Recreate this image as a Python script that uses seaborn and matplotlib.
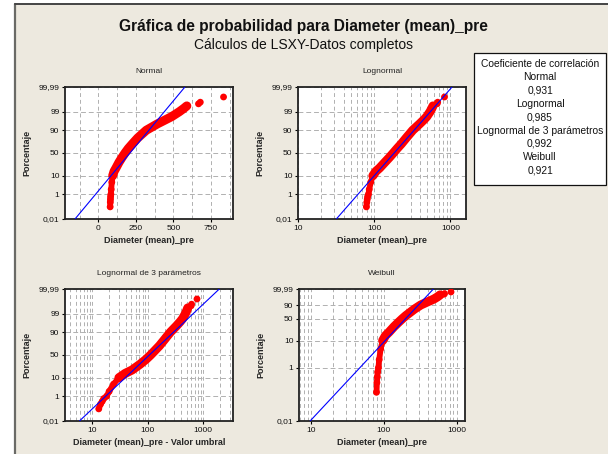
import math
from statistics import NormalDist

import numpy as np
import pandas as pd
import matplotlib
matplotlib.use("Agg")
import matplotlib.pyplot as plt
import seaborn as sns
from matplotlib.patches import Rectangle
from matplotlib.lines import Line2D
from matplotlib.ticker import MultipleLocator, LogLocator, NullFormatter

# plotted points: median-rank percent vs diameter
percent = [0.12, 0.28, 0.45, 0.7, 1, 2, 5, 10, 15, 20, 30, 40, 50, 60, 70,
           80, 90, 95, 97, 98, 99, 99.4, 99.6]
diameter = [79, 80, 81, 82, 84, 86, 90, 96, 105, 118, 138, 158, 178, 200, 228,
            262, 320, 395, 450, 490, 540, 570, 590]
outlier_percent = [99.72, 99.79, 99.92]
outlier_diameter = [668, 680, 835]

threshold_3p = 66

# LSXY fitted lines
normal_fit = (211, 98.5)        # mean, std dev
lognormal_fit = (5.208, 0.470)  # location, scale (ln)
lognormal3_fit = (4.667, 0.781)
weibull_fit = (2.93, 224)       # shape, scale

dist_names = ["Normal", "Lognormal", "Lognormal de 3 parámetros", "Weibull"]
corr_values = ["0,931", "0,985", "0,992", "0,921"]

pct_ticks = [0.01, 1, 10, 50, 90, 99, 99.99]
pct_ticks_weibull = [0.01, 1, 10, 50, 90, 99.99]

BEIGE = "#EDE9DF"
W, H = 608, 454

sns.set_theme(style="white")
plt.rcParams["font.family"] = ["Liberation Sans", "DejaVu Sans"]

_nd = NormalDist()
_ppf = np.vectorize(_nd.inv_cdf, otypes=[float])
_erf = np.vectorize(math.erf, otypes=[float])


def norm_fwd(p):
    p = np.clip(np.asarray(p, dtype=float), 1e-7, 100 - 1e-7)
    return _ppf(p / 100)


def norm_inv(z):
    return 50 * (1 + _erf(np.asarray(z, dtype=float) / math.sqrt(2)))


def weib_fwd(p):
    p = np.clip(np.asarray(p, dtype=float), 1e-7, 100 - 1e-7)
    return np.log(-np.log(1 - p / 100))


def weib_inv(u):
    return 100 * (1 - np.exp(-np.exp(np.asarray(u, dtype=float))))


def box(left, top, right, bottom):
    return [left / W, 1 - bottom / H, (right - left) / W, (bottom - top) / H]


def pct_label(v):
    return f"{v:g}".replace(".", ",")


def style_axis(ax, title, xlabel, yticks, log_x):
    ax.set_facecolor("white")
    for s in ax.spines.values():
        s.set_visible(True)
        s.set_color("#222222")
        s.set_linewidth(1.3)
    ax.set_yticks(yticks)
    ax.set_yticklabels([pct_label(v) for v in yticks])
    ax.set_ylim(0.01, 99.99)
    if log_x:
        ax.xaxis.set_minor_locator(LogLocator(base=10, subs=np.arange(2, 10)))
        ax.xaxis.set_minor_formatter(NullFormatter())
    ax.tick_params(axis="both", which="major", direction="out", length=2.5,
                   width=0.8, color="black", labelsize=6, pad=1.5,
                   left=True, bottom=True, labelcolor="#111111")
    ax.tick_params(axis="both", which="minor", length=0)
    ax.xaxis.grid(True, which="both", linestyle=(0, (4, 3)), color="#b0b0b0", lw=0.7)
    ax.yaxis.grid(True, which="major", linestyle=(0, (5, 3)), color="#b0b0b0", lw=0.7)
    ax.set_axisbelow(True)
    ax.set_title(title, fontsize=6, pad=10, color="#222222")
    ax.set_xlabel(xlabel, fontsize=6.5, fontweight="bold", labelpad=3)
    ax.set_ylabel("Porcentaje", fontsize=6.5, fontweight="bold")
    ax.yaxis.set_label_coords(-0.2, 0.5)


def draw_points(ax, x, xo):
    pts = pd.DataFrame({"x": x, "pct": percent})
    tail = pts[pts["pct"] <= 10]
    body = pts[pts["pct"] >= 10]
    extra = pd.DataFrame({"x": xo, "pct": outlier_percent})
    sns.lineplot(data=tail, x="x", y="pct", ax=ax, sort=False, estimator=None,
                 color="#FF0000", lw=4.2, solid_capstyle="round", zorder=3)
    sns.lineplot(data=body, x="x", y="pct", ax=ax, sort=False, estimator=None,
                 color="#FF0000", lw=6.5, solid_capstyle="round", zorder=3)
    sns.scatterplot(data=pd.concat([pts, extra]), x="x", y="pct", ax=ax,
                    color="#FF0000", s=24, edgecolor="none", zorder=4)


def draw_fit(ax, xfit):
    fit = pd.DataFrame({"x": xfit, "pct": [0.01, 99.99]})
    sns.lineplot(data=fit, x="x", y="pct", ax=ax, sort=False, estimator=None,
                 color="#0000FF", lw=0.8, zorder=5)


fig = plt.figure(figsize=(W / 100, H / 100), dpi=100, facecolor="white")
fig.patches.append(Rectangle((15 / W, 0), 1, 1 - 4 / H, transform=fig.transFigure,
                             facecolor=BEIGE, edgecolor="none", zorder=-10))
fig.lines.append(Line2D([15 / W, 15 / W], [0, 1 - 4 / H], transform=fig.transFigure,
                        color="#6a6a66", lw=1.6))
fig.lines.append(Line2D([15 / W, 1], [1 - 4 / H, 1 - 4 / H], transform=fig.transFigure,
                        color="#444444", lw=1.4))

z_end = np.array([norm_fwd(0.01), norm_fwd(99.99)])
u_end = np.array([weib_fwd(0.01), weib_fwd(99.99)])

# Normal
ax1 = fig.add_axes(box(65, 87, 233, 219))
ax1.set_yscale("function", functions=(norm_fwd, norm_inv))
draw_points(ax1, diameter, outlier_diameter)
draw_fit(ax1, normal_fit[0] + normal_fit[1] * z_end)
ax1.set_xlim(-222, 898)
ax1.set_xticks([0, 250, 500, 750])
ax1.xaxis.set_minor_locator(MultipleLocator(125))
style_axis(ax1, dist_names[0], "Diameter (mean)_pre", pct_ticks, False)

# Lognormal
ax2 = fig.add_axes(box(298, 87, 466, 219))
ax2.set_xscale("log")
ax2.set_yscale("function", functions=(norm_fwd, norm_inv))
draw_points(ax2, diameter, outlier_diameter)
draw_fit(ax2, np.exp(lognormal_fit[0] + lognormal_fit[1] * z_end))
ax2.set_xlim(10, 1600)
ax2.set_xticks([10, 100, 1000])
ax2.set_xticklabels(["10", "100", "1000"])
style_axis(ax2, dist_names[1], "Diameter (mean)_pre", pct_ticks, True)

# Lognormal 3 parameters
ax3 = fig.add_axes(box(65, 289, 233, 421))
ax3.set_xscale("log")
ax3.set_yscale("function", functions=(norm_fwd, norm_inv))
draw_points(ax3, [d - threshold_3p for d in diameter],
            [d - threshold_3p for d in outlier_diameter])
draw_fit(ax3, np.exp(lognormal3_fit[0] + lognormal3_fit[1] * z_end))
ax3.set_xlim(3.2, 3430)
ax3.set_xticks([10, 100, 1000])
ax3.set_xticklabels(["10", "100", "1000"])
style_axis(ax3, dist_names[2], "Diameter (mean)_pre - Valor umbral", pct_ticks, True)

# Weibull
ax4 = fig.add_axes(box(299, 289, 465, 421))
ax4.set_xscale("log")
ax4.set_yscale("function", functions=(weib_fwd, weib_inv))
draw_points(ax4, diameter, outlier_diameter)
draw_fit(ax4, weibull_fit[1] * np.exp(u_end / weibull_fit[0]))
ax4.set_xlim(6.8, 1300)
ax4.set_xticks([10, 100, 1000])
ax4.set_xticklabels(["10", "100", "1000"])
style_axis(ax4, dist_names[3], "Diameter (mean)_pre", pct_ticks_weibull, True)

# titles
fig.text(303 / W, 1 - 26 / H, "Gráfica de probabilidad para Diameter (mean)_pre",
         ha="center", va="center", fontsize=11.2, fontweight="bold", color="#111111")
fig.text(303 / W, 1 - 45 / H, "Cálculos de LSXY-Datos completos",
         ha="center", va="center", fontsize=10, color="#111111")

# correlation box
fig.patches.append(Rectangle((474 / W, 1 - 185 / H), 132 / W, 132 / H,
                             transform=fig.transFigure, facecolor="white",
                             edgecolor="#111111", lw=0.9, zorder=1))
box_lines = ["Coeficiente de correlación"]
for name, val in zip(dist_names, corr_values):
    box_lines += [name, val]
for i, line in enumerate(box_lines):
    fig.text(540 / W, 1 - (64 + i * 13.3) / H, line, ha="center", va="center",
             fontsize=7.4, color="#111111", zorder=2)

fig.savefig("out.png", dpi=100, facecolor=fig.get_facecolor())
